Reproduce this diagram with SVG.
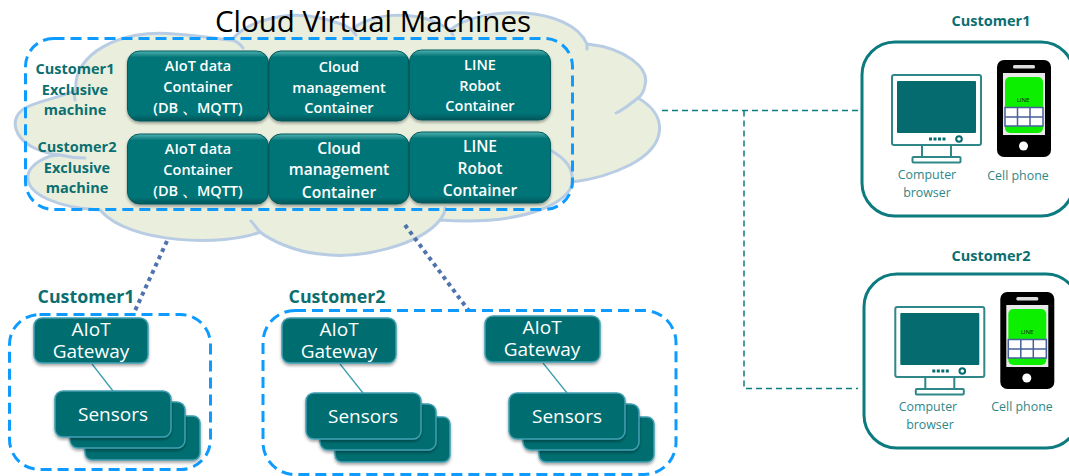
<svg xmlns="http://www.w3.org/2000/svg" xmlns:xlink="http://www.w3.org/1999/xlink" width="1069" height="476" viewBox="0 0 1069 476">
<style>
text{font-family:"Open Sans","Noto Sans","Liberation Sans",sans-serif;text-anchor:middle}
.c{fill:#fff;font-size:14.5px;font-weight:600}
.c2{fill:#fff;font-size:15.6px;font-weight:600}
.t{fill:#0b6e70;font-size:14.5px;font-weight:700}
.h{fill:#0b6e70;font-size:17.800px;font-weight:700}
.g{fill:#fff;font-size:19px}
.s{fill:#fff;font-size:19px}
.d{fill:#2f8788;font-size:12.4px}
.box{fill:url(#bevel);stroke:#045a5e;stroke-width:1;filter:url(#sh)}
.flat{fill:#056e70;stroke:#3f9fb2;stroke-width:1.5;filter:url(#sh)}
.dash{fill:none;stroke:#0d9bff;stroke-width:3;stroke-dasharray:11 6}
.dot{fill:none;stroke:#4f74ad;stroke-width:4;stroke-dasharray:4 4}
.thin{fill:none;stroke:#3f9fb2;stroke-width:1.3}
.link{fill:none;stroke:#0c7b7f;stroke-width:1.5;stroke-dasharray:6 4}
.panel{fill:#fff;stroke:#0c7b7f;stroke-width:3}
.cl{fill:none;stroke:#b8cce4;stroke-width:3;stroke-linecap:round}
</style>
<defs>
<linearGradient id="bevel" x1="0" y1="0" x2="0" y2="1"><stop offset="0" stop-color="#4fb3b0"/><stop offset=".09" stop-color="#067578"/><stop offset=".9" stop-color="#067578"/><stop offset="1" stop-color="#04565a"/></linearGradient>
<filter id="sh" x="-10%" y="-10%" width="120%" height="125%"><feDropShadow dx="0" dy="2" stdDeviation="1.5" flood-color="#000" flood-opacity=".35"/></filter>
<g id="device">
<rect x="892" y="75" width="89" height="70" rx="2" fill="#fff" stroke="#2f8788" stroke-width="2"/>
<rect x="897" y="81" width="79" height="52" rx="1" fill="#056b6e"/>
<path d="M922 146V156M951 146V156" stroke="#2f8788" stroke-width="2" fill="none"/>
<rect x="912.500" y="157" width="48" height="5.500" rx="1" fill="#fff" stroke="#2f8788" stroke-width="2"/>
<path d="M929 139H946" stroke="#056b6e" stroke-width="3" stroke-dasharray="3 1.500"/>
<circle cx="959" cy="139" r="2.800" fill="#fff" stroke="#056b6e" stroke-width="2"/>
<rect x="997" y="60" width="54" height="97" rx="7" fill="#000"/>
<rect x="1003" y="73" width="42" height="62" fill="#e8e8e8"/>
<rect x="1005" y="77" width="38" height="56" rx="5" fill="#0cf000"/>
<rect x="1013" y="65" width="22" height="3.500" rx="1.500" fill="#ddd"/>
<circle cx="1023.500" cy="146" r="4.500" fill="#fff"/>
<rect x="1005" y="107.500" width="38" height="18.500" fill="#fff" stroke="#47609a" stroke-width="1.500"/>
<path d="M1017.500 107.500V126M1030 107.500V126M1005 117H1043" stroke="#47609a" stroke-width="1.500" fill="none"/>
</g>
</defs>

<g id="cloud">
<path d="M76 90C72 55 120 28 175 34C205 36 225 40 232 40C245 22 285 10 320 18C345 24 350 28 352 30C365 15 415 6 450 30C480 5 570 5 587 44C625 48 650 68 645 85C644 92 642 95 638 98C668 115 668 145 630 165C610 175 590 180 572 182C572 200 530 226 440 220C420 245 360 260 320 254C295 252 270 240 260 232C225 246 130 245 100 210C60 208 25 195 28 175C30 165 45 155 60 155C15 150 5 120 25 108C40 100 60 98 76 90Z" fill="#e9eedd" stroke="#b8cce4" stroke-width="3"/>
<path class="cl" d="M75 100C74 95 74 92 76 90"/>
<path class="cl" d="M60 155C68 157 76 158 85 158"/>
<path class="cl" d="M232 40C238 42 241 45 243 48"/>
<path class="cl" d="M352 30L356 35"/>
<path class="cl" d="M450 30L453 35"/>
<path class="cl" d="M587 44L587 49"/>
<path class="cl" d="M638 98C630 104 625 109 616 113"/>
<path class="cl" d="M550 150C565 158 574 168 572 182"/>
<path class="cl" d="M440 220C443 216 445 212 445 208"/>
<path class="cl" d="M260 232C256 228 254 224 251 221"/>
</g>

<text id="title" x="373" y="32" style="font-size:29.500px;fill:#000">Cloud Virtual Machines</text>

<g id="connectors">
<path class="link" d="M662 110.500H862M744 110.500V388.500H858"/>
<path class="dot" d="M167 241L133 315"/>
<path class="dot" d="M405 225L469 311"/>
<path class="thin" d="M92 364L113 391M340 364L363 393M543 363L567 393"/>
</g>

<g id="cloud-frame"><rect class="dash" x="25.500" y="38.500" width="547" height="171" rx="28"/></g>
<g id="label-c1-machine"><text class="t" x="75" y="74">Customer1</text><text class="t" x="75" y="95">Exclusive</text><text class="t" x="75" y="115">machine</text></g>
<g id="label-c2-machine"><text class="t" x="77" y="152">Customer2</text><text class="t" x="77" y="173">Exclusive</text><text class="t" x="77" y="193">machine</text></g>

<g id="c1-aiot"><rect class="box" x="127.500" y="51" width="141" height="70" rx="12"/><text class="c" x="198" y="71">AIoT data</text><text class="c" x="198" y="92">Container</text><text class="c" x="198" y="113">(DB 、MQTT)</text></g>
<g id="c1-cloud"><rect class="box" x="269" y="51" width="140" height="70" rx="12"/><text class="c" x="339" y="72">Cloud</text><text class="c" x="339" y="93">management</text><text class="c" x="339" y="113">Container</text></g>
<g id="c1-line"><rect class="box" x="409.500" y="50" width="141" height="70" rx="12"/><text class="c" x="480" y="70">LINE</text><text class="c" x="480" y="91">Robot</text><text class="c" x="480" y="111">Container</text></g>
<g id="c2-aiot"><rect class="box" x="127.500" y="134" width="141" height="70" rx="12"/><text class="c" x="198" y="154">AIoT data</text><text class="c" x="198" y="175">Container</text><text class="c" x="198" y="196">(DB 、MQTT)</text></g>
<g id="c2-cloud"><rect class="box" x="269" y="134" width="140" height="70" rx="12"/><text class="c2" x="339" y="154">Cloud</text><text class="c2" x="339" y="175">management</text><text class="c2" x="339" y="198">Container</text></g>
<g id="c2-line"><rect class="box" x="409.500" y="132" width="141" height="71" rx="12"/><text class="c2" x="480" y="152">LINE</text><text class="c2" x="480" y="174">Robot</text><text class="c2" x="480" y="196">Container</text></g>

<g id="site-c1">
<text class="h" x="86" y="303">Customer1</text>
<rect class="dash" x="9.500" y="314.500" width="201" height="155" rx="30"/>
</g>
<g id="site-c2">
<text class="h" x="337" y="303">Customer2</text>
<rect class="dash" x="263" y="310.500" width="413" height="164" rx="32"/>
</g>
<g id="gw1"><rect class="flat" x="34" y="318" width="114" height="45" rx="8"/><text class="g" x="91" y="336">AIoT</text><text class="g" x="91" y="358">Gateway</text></g>
<g id="gw2"><rect class="flat" x="282" y="318" width="114" height="45" rx="8"/><text class="g" x="339" y="336">AIoT</text><text class="g" x="339" y="358">Gateway</text></g>
<g id="gw3"><rect class="flat" x="485" y="316" width="115" height="46" rx="8"/><text class="g" x="542" y="334">AIoT</text><text class="g" x="542" y="356">Gateway</text></g>

<g id="sensors1"><rect class="flat" x="85" y="416" width="115" height="44" rx="7"/><rect class="flat" x="70" y="402" width="115" height="46" rx="8"/><rect class="flat" x="55" y="391" width="116" height="46" rx="8"/><text class="s" x="113" y="421">Sensors</text></g>
<g id="sensors2"><rect class="flat" x="335" y="417" width="115" height="45" rx="7"/><rect class="flat" x="320" y="404" width="116" height="46" rx="8"/><rect class="flat" x="306" y="393" width="115" height="46" rx="8"/><text class="s" x="363" y="423">Sensors</text></g>
<g id="sensors3"><rect class="flat" x="539" y="417" width="115" height="45" rx="7"/><rect class="flat" x="523" y="404" width="116" height="46" rx="8"/><rect class="flat" x="509" y="393" width="116" height="46" rx="8"/><text class="s" x="567" y="423">Sensors</text></g>

<g id="customer1">
<text class="t" x="991" y="26">Customer1</text>
<rect class="panel" x="862" y="42" width="212" height="174" rx="33"/>
<use xlink:href="#device" href="#device"/>
<text x="1023" y="102" style="font-size:6px;fill:#111">LINE</text>
<text class="d" x="927" y="179">Computer</text><text class="d" x="927" y="197">browser</text><text class="d" x="1018" y="180">Cell phone</text>
</g>
<g id="customer2">
<text class="t" x="991" y="261">Customer2</text>
<rect class="panel" x="864" y="274" width="215" height="174" rx="33"/>
<use xlink:href="#device" href="#device" transform="translate(3.300 232)"/>
<text x="1027" y="334" style="font-size:6px;fill:#111">LINE</text>
<text class="d" x="928" y="411">Computer</text><text class="d" x="930" y="429">browser</text><text class="d" x="1022" y="411">Cell phone</text>
</g>
</svg>
